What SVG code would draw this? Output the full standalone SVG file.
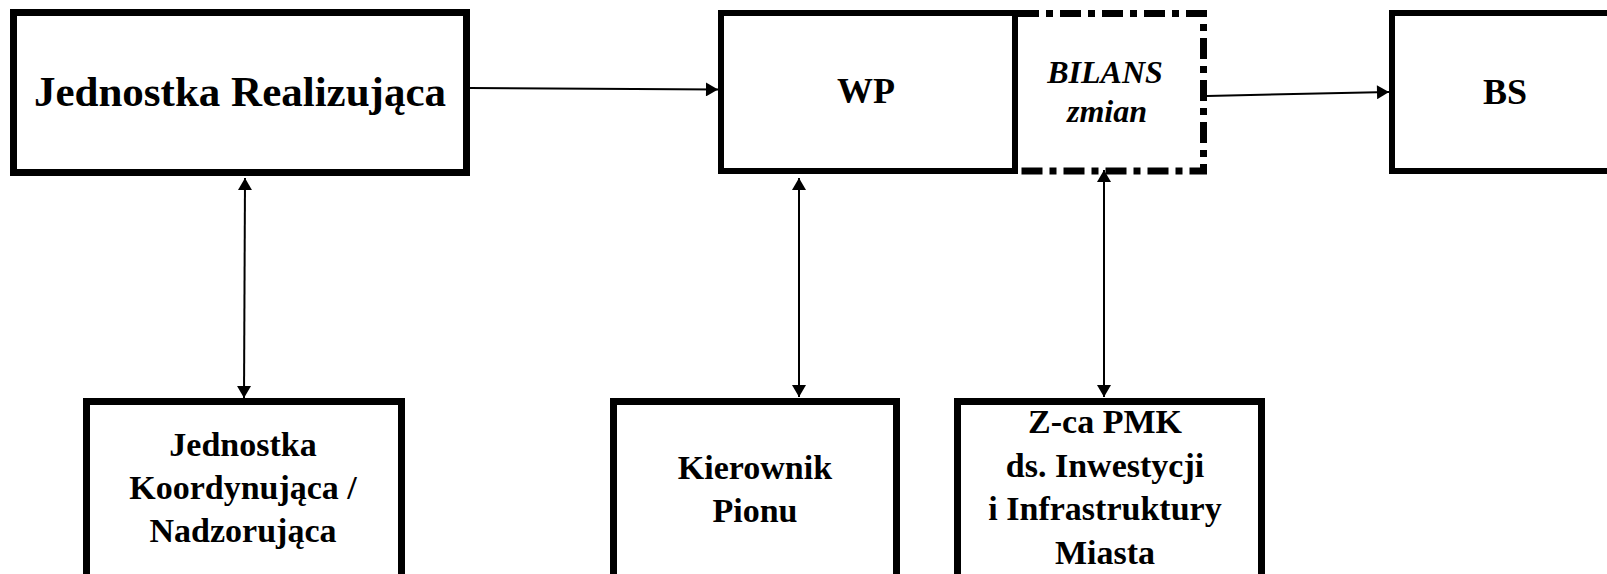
<svg xmlns="http://www.w3.org/2000/svg" width="1607" height="574" viewBox="0 0 1607 574">
<style>
.box{fill:#fff;stroke:#000;}
.t{font-family:"Liberation Serif","Times New Roman",serif;font-weight:bold;fill:#000;text-anchor:middle;}
.i{font-style:italic;}
.c{stroke:#000;stroke-width:2;fill:none;}
</style>
<defs>
<marker id="ah" markerUnits="userSpaceOnUse" markerWidth="14" markerHeight="14" viewBox="0 0 12 14" refX="12" refY="7" orient="auto-start-reverse">
<path d="M0,0 L12,7 L0,14 Z" fill="#000"/>
</marker>
</defs>
<rect width="1607" height="574" fill="#fff"/>
<g id="connectors">
<line class="c" x1="470" y1="88" x2="718" y2="89.5" marker-end="url(#ah)"/>
<line class="c" x1="1207" y1="96" x2="1389" y2="92" marker-end="url(#ah)"/>
<line class="c" x1="245" y1="178" x2="244" y2="398" marker-start="url(#ah)" marker-end="url(#ah)"/>
<line class="c" x1="799" y1="178" x2="799" y2="397" marker-start="url(#ah)" marker-end="url(#ah)"/>
<line class="c" x1="1104" y1="170" x2="1104" y2="397" marker-start="url(#ah)" marker-end="url(#ah)"/>
</g>
<g id="jednostka-realizujaca">
<rect class="box" x="13.5" y="12.5" width="453" height="160" stroke-width="7"/>
<text class="t" x="240" y="106" font-size="43">Jednostka Realizująca</text>
</g>
<g id="bilans">
<path d="M1018,13.5 H1203.5 V171 H1018" fill="none" stroke="#000" stroke-width="7" stroke-dasharray="21,7,7,7"/>
<text class="t i" x="1105" y="83" font-size="32">BILANS</text>
<text class="t i" x="1107" y="122" font-size="32">zmian</text>
</g>
<g id="wp">
<rect class="box" x="721" y="13" width="294" height="158" stroke-width="6"/>
<text class="t" x="866" y="103" font-size="36">WP</text>
</g>
<g id="bs">
<rect class="box" x="1392" y="13" width="300" height="158" stroke-width="6"/>
<text class="t" x="1505" y="104" font-size="36">BS</text>
</g>
<g id="jednostka-koordynujaca">
<rect class="box" x="86.5" y="401.5" width="315" height="250" stroke-width="7"/>
<text class="t" x="243" y="456" font-size="34">Jednostka</text>
<text class="t" x="243" y="499" font-size="34">Koordynująca /</text>
<text class="t" x="243" y="542" font-size="34">Nadzorująca</text>
</g>
<g id="kierownik-pionu">
<rect class="box" x="613.5" y="401.5" width="283" height="250" stroke-width="7"/>
<text class="t" x="755" y="479" font-size="34">Kierownik</text>
<text class="t" x="755" y="522" font-size="34">Pionu</text>
</g>
<g id="zca-pmk">
<rect class="box" x="957.5" y="401.5" width="304" height="250" stroke-width="7"/>
<text class="t" x="1105" y="433" font-size="34">Z-ca PMK</text>
<text class="t" x="1105" y="476.5" font-size="34">ds. Inwestycji</text>
<text class="t" x="1105" y="520" font-size="34">i Infrastruktury</text>
<text class="t" x="1105" y="563.5" font-size="34">Miasta</text>
</g>
</svg>
